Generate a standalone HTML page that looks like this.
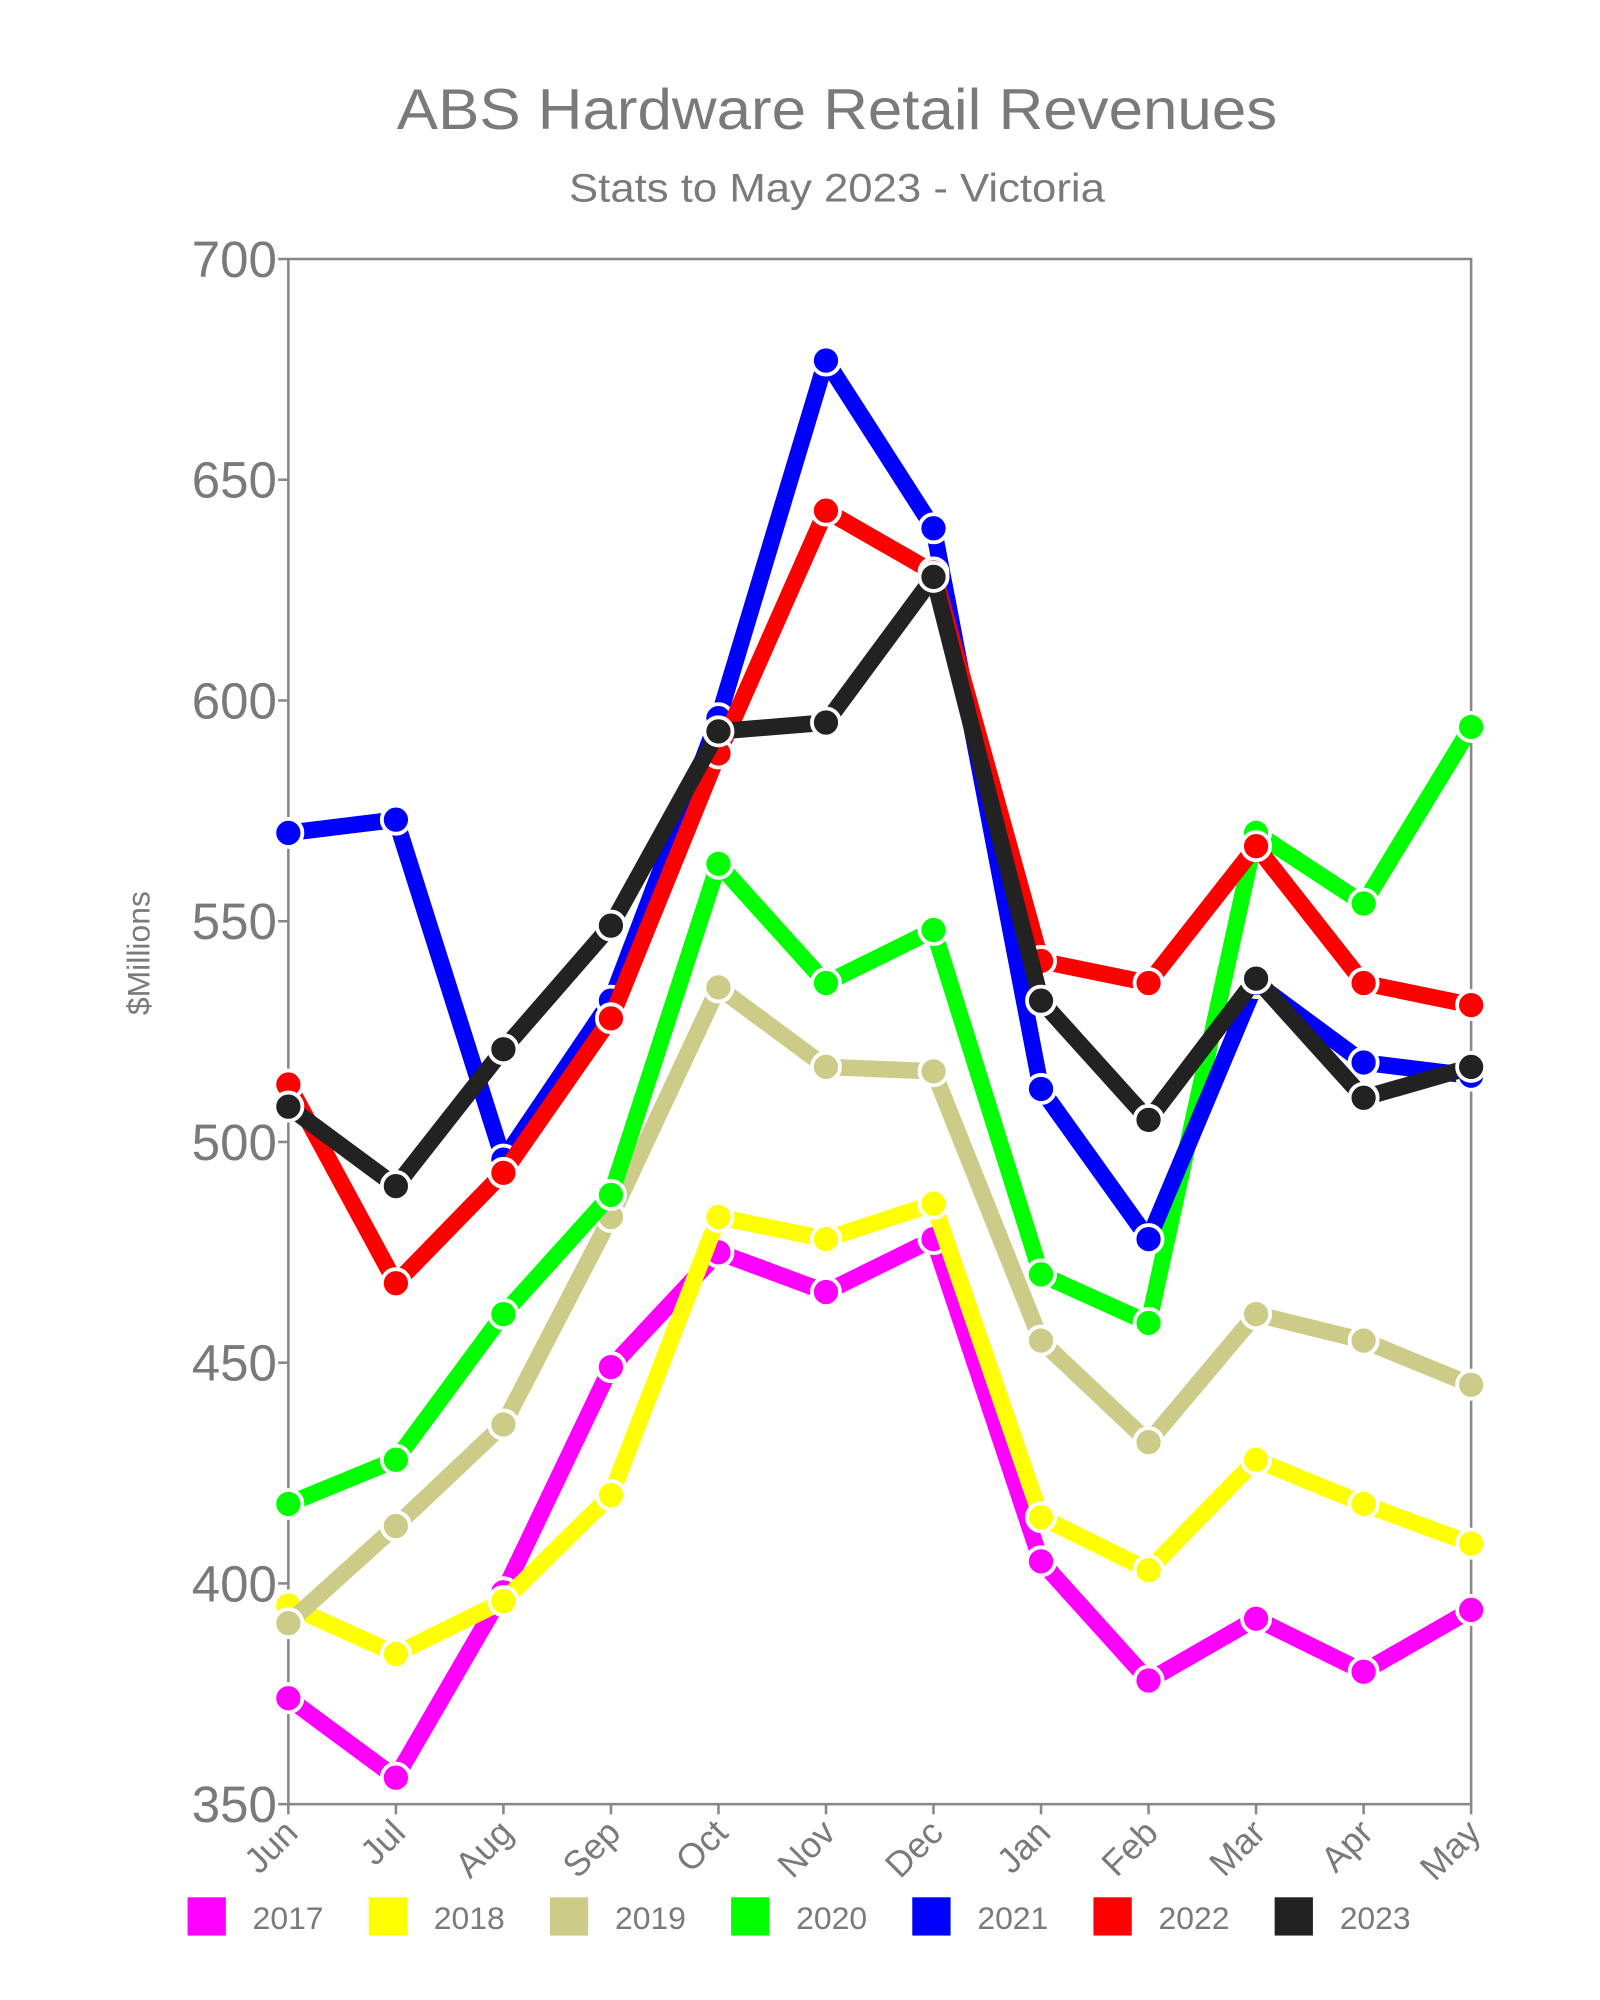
<!DOCTYPE html>
<html><head><meta charset="utf-8"><style>
html,body{margin:0;padding:0;background:#fff;}
svg{display:block;}
text{font-family:"Liberation Sans",sans-serif;fill:#7a7a7a;}
</style></head><body>
<svg id="s" width="1600" height="2000" viewBox="0 0 1254 1567.5" xmlns="http://www.w3.org/2000/svg">
<rect width="1254" height="1567.5" fill="#fff"/>
<text x="656" y="101" font-size="45" text-anchor="middle" textLength="690" lengthAdjust="spacingAndGlyphs">ABS Hardware Retail Revenues</text>
<text x="656" y="158" font-size="31" text-anchor="middle" textLength="420" lengthAdjust="spacingAndGlyphs">Stats to May 2023 - Victoria</text>
<text transform="translate(117,747) rotate(-90)" font-size="25" text-anchor="middle">$Millions</text>
<g id="g"></g>
</svg>
<script>
const g=document.getElementById('g');const NS='http://www.w3.org/2000/svg';
function el(t,a,txt){const e=document.createElementNS(NS,t);for(const k in a)e.setAttribute(k,a[k]);if(txt!=null)e.textContent=txt;g.appendChild(e);return e;}
const X0=226,X1=1153,Y0=203,Y1=1414;
const xs=i=>X0+(X1-X0)*i/11, ys=v=>Y0+(700-v)*(Y1-Y0)/350;
el('rect',{x:X0,y:Y0,width:X1-X0,height:Y1-Y0,fill:'none',stroke:'#888','stroke-width':2});
for(let v=350;v<=700;v+=50){const y=ys(v);el('line',{x1:X0-8,x2:X0,y1:y,y2:y,stroke:'#888','stroke-width':2});
el('text',{x:X0-9,y:y+14,'font-size':40,'text-anchor':'end'},v);}
const m=['Jun','Jul','Aug','Sep','Oct','Nov','Dec','Jan','Feb','Mar','Apr','May'];
m.forEach((t,i)=>{const x=xs(i);el('line',{x1:x,x2:x,y1:Y1,y2:Y1+8,stroke:'#888','stroke-width':2});
el('text',{transform:`translate(${x+9},${Y1+24}) rotate(-45)`,'font-size':28,'text-anchor':'end'},t);});
const S=[
['2017','#ff00ff',[374,356,398,449,475,466,478,405,378,392,380,394]],
['2018','#ffff00',[395,384,396,420,483,478,486,415,403,428,418,409]],
['2019','#cccc88',[391,413,436,483,535,517,516,455,432,461,455,445]],
['2020','#00ff00',[418,428,461,488,563,536,548,470,459,570,554,594]],
['2021','#0000ff',[570,573,496,532,596,677,639,512,478,536,518,515]],
['2022','#ff0000',[513,468,493,528,588,643,629,541,536,567,536,531]],
['2023','#222222',[508,490,521,549,593,595,628,532,505,537,510,517]]];
S.forEach(([n,c,d],k)=>{
el('polyline',{points:d.map((v,i)=>xs(i)+','+ys(v)).join(' '),fill:'none',stroke:c,'stroke-width':13,'stroke-linejoin':'round'});
d.forEach((v,i)=>el('circle',{cx:xs(i),cy:ys(v),r:11,fill:c,stroke:'#fff','stroke-width':3}));
const lx=147+k*142;el('rect',{x:lx,y:1487,width:30,height:30,fill:c});
el('text',{x:lx+51,y:1512,'font-size':25},n);});
</script>
</body></html>
